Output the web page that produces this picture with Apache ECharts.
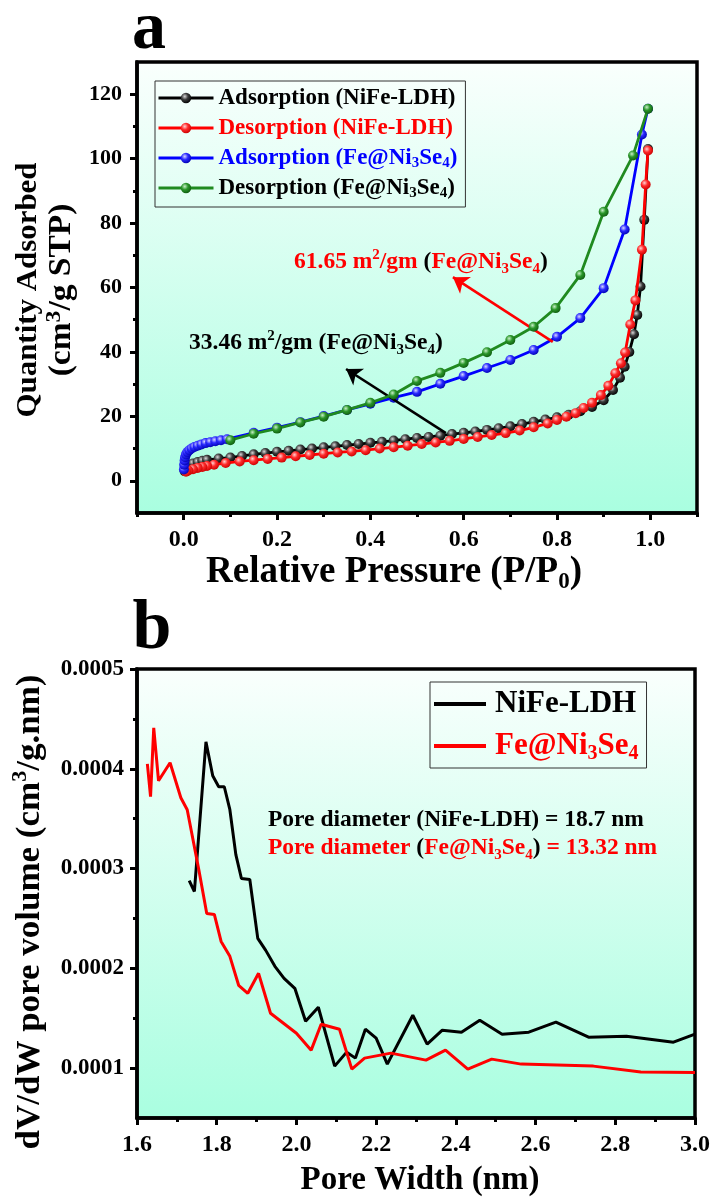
<!DOCTYPE html>
<html>
<head>
<meta charset="utf-8">
<script src="https://cdn.jsdelivr.net/npm/echarts@6/dist/echarts.min.js"></script>
<style>
  html, body { margin: 0; padding: 0; background: #ffffff; }
  #chart { width: 713px; height: 1200px; }
</style>
</head>
<body>
<div id="chart"></div>
<script>
// ---------- (a) N2 adsorption / desorption isotherms: [P/P0, quantity] ----------
const nifeAdsorption = [
  [0.002, 3.0], [0.006, 4.2], [0.012, 4.9], [0.02, 5.4], [0.03, 5.8], [0.04, 6.2], [0.05, 6.5],
  [0.075, 6.9], [0.1, 7.2], [0.125, 7.7], [0.15, 8.2], [0.175, 8.6], [0.2, 9.0], [0.225, 9.3],
  [0.25, 9.7], [0.275, 10.0], [0.3, 10.4], [0.325, 10.7], [0.35, 11.1], [0.375, 11.4], [0.4, 11.8],
  [0.425, 12.1], [0.45, 12.5], [0.475, 12.9], [0.5, 13.3], [0.525, 13.6], [0.55, 14.0], [0.575, 14.5],
  [0.6, 14.9], [0.625, 15.3], [0.65, 15.8], [0.675, 16.3], [0.7, 16.9], [0.725, 17.6], [0.75, 18.3],
  [0.775, 19.0], [0.8, 19.7], [0.825, 20.5], [0.85, 21.6], [0.875, 22.9], [0.9, 25.0], [0.92, 28.2],
  [0.935, 32.0], [0.945, 35.4], [0.955, 40.0], [0.965, 45.5], [0.972, 51.5], [0.979, 60.3],
  [0.987, 81.0], [0.995, 103.0]
];
const nifeDesorption = [
  [0.995, 102.5], [0.99, 92.0], [0.982, 71.7], [0.968, 56.0], [0.957, 48.5], [0.946, 39.8],
  [0.937, 36.5], [0.925, 33.4], [0.91, 29.5], [0.894, 26.6], [0.875, 24.2], [0.857, 22.6],
  [0.84, 21.0], [0.82, 19.9], [0.8, 18.9], [0.78, 17.8], [0.75, 16.6], [0.72, 15.6], [0.69, 14.8],
  [0.66, 14.2], [0.63, 13.6], [0.6, 13.0], [0.57, 12.4], [0.54, 11.9], [0.51, 11.4], [0.48, 10.9],
  [0.45, 10.4], [0.42, 10.0], [0.39, 9.5], [0.36, 9.1], [0.33, 8.8], [0.3, 8.4], [0.27, 8.0],
  [0.24, 7.6], [0.21, 7.2], [0.18, 6.8], [0.15, 6.4], [0.12, 6.0], [0.09, 5.5], [0.065, 5.0],
  [0.05, 4.6], [0.04, 4.3], [0.03, 4.0], [0.02, 3.6], [0.01, 3.2], [0.005, 2.8]
];
const feniAdsorption = [
  [0.0005, 3.5], [0.001, 5.0], [0.002, 6.3], [0.003, 7.3], [0.005, 8.2], [0.008, 8.9], [0.012, 9.5],
  [0.017, 10.0], [0.023, 10.5], [0.03, 10.9], [0.038, 11.3], [0.047, 11.7], [0.057, 12.0],
  [0.068, 12.3], [0.08, 12.6], [0.093, 12.9], [0.15, 14.9], [0.2, 16.5], [0.25, 18.2], [0.3, 20.1],
  [0.35, 22.0], [0.4, 23.9], [0.45, 25.8], [0.5, 27.6], [0.55, 30.1], [0.6, 32.5], [0.65, 35.0],
  [0.7, 37.5], [0.75, 40.6], [0.8, 44.7], [0.85, 50.5], [0.9, 59.8], [0.945, 78.0], [0.982, 107.5],
  [0.995, 115.5]
];
const feniDesorption = [
  [0.995, 115.5], [0.963, 101.0], [0.9, 83.5], [0.85, 63.9], [0.797, 53.6], [0.75, 47.8],
  [0.7, 43.7], [0.65, 39.9], [0.6, 36.6], [0.55, 33.5], [0.5, 31.0], [0.45, 26.8], [0.4, 24.2],
  [0.35, 22.0], [0.3, 19.9], [0.25, 18.1], [0.2, 16.2], [0.15, 14.6], [0.1, 12.6]
];
// arrows pointing from the loops to the surface-area labels: [start, tip]
const arrowFeni = [[0.791, 43.1], [0.577, 63.2]];
const arrowNife = [[0.562, 14.8], [0.348, 34.7]];

// ---------- (b) pore size distribution: [pore width nm, dV/dW] ----------
const nifePore = [
  [1.731, 2.88e-4], [1.744, 2.77e-4], [1.773, 4.27e-4], [1.79, 3.93e-4], [1.805, 3.82e-4],
  [1.819, 3.82e-4], [1.833, 3.59e-4], [1.848, 3.14e-4], [1.862, 2.90e-4], [1.883, 2.89e-4],
  [1.903, 2.30e-4], [1.923, 2.18e-4], [1.946, 2.02e-4], [1.969, 1.90e-4], [1.996, 1.80e-4],
  [2.023, 1.47e-4], [2.055, 1.61e-4], [2.096, 1.02e-4], [2.126, 1.16e-4], [2.148, 1.10e-4],
  [2.173, 1.39e-4], [2.2, 1.30e-4], [2.228, 1.04e-4], [2.292, 1.53e-4], [2.328, 1.24e-4],
  [2.366, 1.38e-4], [2.414, 1.36e-4], [2.46, 1.48e-4], [2.516, 1.34e-4], [2.583, 1.36e-4],
  [2.651, 1.46e-4], [2.733, 1.31e-4], [2.828, 1.32e-4], [2.946, 1.26e-4], [3.0, 1.34e-4]
];
const feniPore = [
  [1.626, 4.05e-4], [1.634, 3.72e-4], [1.642, 4.41e-4], [1.654, 3.88e-4], [1.683, 4.06e-4],
  [1.71, 3.71e-4], [1.726, 3.59e-4], [1.755, 2.99e-4], [1.775, 2.55e-4], [1.794, 2.54e-4],
  [1.811, 2.27e-4], [1.833, 2.12e-4], [1.855, 1.83e-4], [1.878, 1.75e-4], [1.905, 1.95e-4],
  [1.935, 1.55e-4], [2.0, 1.35e-4], [2.037, 1.18e-4], [2.062, 1.44e-4], [2.108, 1.39e-4],
  [2.139, 0.99e-4], [2.171, 1.10e-4], [2.237, 1.15e-4], [2.325, 1.08e-4], [2.374, 1.18e-4],
  [2.43, 0.99e-4], [2.49, 1.09e-4], [2.564, 1.04e-4], [2.745, 1.02e-4], [2.864, 0.96e-4],
  [3.0, 0.955e-4]
];

// ---------- axis ticks ----------
const xTicksA = [0, 0.2, 0.4, 0.6, 0.8, 1.0];
const xMinorA = [-0.1, 0.1, 0.3, 0.5, 0.7, 0.9, 1.1];
const yTicksA = [0, 20, 40, 60, 80, 100, 120];
const yMinorA = [10, 30, 50, 70, 90, 110];
const xTicksB = [1.6, 1.8, 2.0, 2.2, 2.4, 2.6, 2.8, 3.0];
const xMinorB = [1.7, 1.9, 2.1, 2.3, 2.5, 2.7, 2.9];
const yTicksB = [0.0001, 0.0002, 0.0003, 0.0004, 0.0005];
const yMinorB = [0.00015, 0.00025, 0.00035, 0.00045];

// ---------- series names ----------
const N_ADS_NIFE = 'Adsorption (NiFe-LDH)';
const N_DES_NIFE = 'Desorption (NiFe-LDH)';
const N_ADS_FENI = 'Adsorption (Fe@Ni3Se4)';
const N_DES_FENI = 'Desorption (Fe@Ni3Se4)';
const N_PORE_NIFE = 'NiFe-LDH';
const N_PORE_FENI = 'Fe@Ni3Se4';

const FONT = '"Liberation Serif", "Times New Roman", serif';
const AXIS_W = 3.5;

function panelBackground() {
  return {
    type: 'linear', x: 0, y: 0, x2: 0, y2: 1,
    colorStops: [{ offset: 0, color: '#fafffd' }, { offset: 1, color: '#a9fee0' }]
  };
}
function ball(light, base, dark) {
  return {
    type: 'radial', x: 0.38, y: 0.35, r: 0.7,
    colorStops: [{ offset: 0, color: light }, { offset: 0.45, color: base }, { offset: 1, color: dark }]
  };
}
function richSet(size, subRatio) {
  const subSize = Math.round(size * (subRatio || 0.63));
  const base = { fontFamily: FONT, fontWeight: 'bold' };
  const main = (fill) => Object.assign({ fontSize: size, lineHeight: size + 6, fill }, base);
  const sub = (fill) => Object.assign({ fontSize: subSize, lineHeight: subSize, verticalAlign: 'bottom', fill }, base);
  const sup = (fill) => Object.assign({ fontSize: subSize, lineHeight: subSize, verticalAlign: 'top', fill }, base);
  return {
    k: main('#000'), r: main('#ff0000'),
    ksub: sub('#000'), rsub: sub('#ff0000'),
    ksup: sup('#000'), rsup: sup('#ff0000')
  };
}
function label(x, y, text, size, opts) {
  opts = opts || {};
  return {
    type: 'text', x, y,
    rotation: opts.rotation || 0,
    scaleX: opts.scaleX || 1,
    silent: true,
    style: {
      text, rich: richSet(size, opts.subRatio),
      fontFamily: FONT, fontWeight: 'bold', fontSize: size, fill: '#000',
      align: opts.align || 'center', verticalAlign: 'middle'
    }
  };
}

function valueAxis(gridIndex, min, max, position, ticks, labels, fmt, labelSize, margin) {
  return {
    type: 'value', gridIndex, min, max, position,
    axisLine: { show: !!labels, onZero: false, lineStyle: { color: '#000', width: AXIS_W } },
    axisTick: { show: true, inside: false, customValues: ticks, length: labels ? 7 : 4,
                lineStyle: { color: '#000', width: 3 } },
    axisLabel: labels ? {
      customValues: labels, formatter: fmt, margin,
      fontFamily: FONT, fontWeight: 'bold', fontSize: labelSize, color: '#000'
    } : { show: false },
    splitLine: { show: false }
  };
}

const legendText = {
  [N_ADS_NIFE]: 'Adsorption (NiFe-LDH)',
  [N_DES_NIFE]: 'Desorption (NiFe-LDH)',
  [N_ADS_FENI]: 'Adsorption (Fe@Ni{sub|3}Se{sub|4})',
  [N_DES_FENI]: 'Desorption (Fe@Ni{sub|3}Se{sub|4})',
  [N_PORE_NIFE]: 'NiFe-LDH',
  [N_PORE_FENI]: 'Fe@Ni{sub|3}Se{sub|4}'
};

function isotherm(name, data, lineColor, marker, z) {
  return {
    name, type: 'line', xAxisIndex: 0, yAxisIndex: 0, data, z,
    symbol: 'circle', symbolSize: 10, showSymbol: true, showAllSymbol: true,
    lineStyle: { color: lineColor, width: 2.8 },
    itemStyle: { color: marker, borderWidth: 0 },
    emphasis: { disabled: true }
  };
}

const chart = echarts.init(document.getElementById('chart'), null, { renderer: 'canvas' });

const option = {
  animation: false,
  backgroundColor: '#ffffff',
  grid: [
    { left: 137, top: 62, width: 560, height: 451, show: true, borderColor: '#000', borderWidth: AXIS_W,
      backgroundColor: panelBackground() },
    { left: 137, top: 669, width: 560, height: 449, show: true, borderColor: '#000', borderWidth: AXIS_W,
      backgroundColor: panelBackground() }
  ],
  xAxis: [
    valueAxis(0, -0.1, 1.1, 'bottom', xTicksA, xTicksA, v => v.toFixed(1), 24, 15),
    valueAxis(0, -0.1, 1.1, 'bottom', xMinorA, null),
    valueAxis(1, 1.6, 3.0, 'bottom', xTicksB, xTicksB, v => v.toFixed(1), 24, 15),
    valueAxis(1, 1.6, 3.0, 'bottom', xMinorB, null)
  ],
  yAxis: [
    valueAxis(0, -10, 130, 'left', yTicksA, yTicksA, v => String(Math.round(v)), 22, 15),
    valueAxis(0, -10, 130, 'left', yMinorA, null),
    valueAxis(1, 0.00005, 0.0005, 'left', yTicksB, yTicksB, v => v.toFixed(4), 23, 13),
    valueAxis(1, 0.00005, 0.0005, 'left', yMinorB, null)
  ],
  legend: [
    {
      left: 155, top: 81, orient: 'vertical', selectedMode: false,
      itemWidth: 55, itemHeight: 13, itemGap: 4,
      padding: [4, 8, 6, 2], borderColor: '#333', borderWidth: 1,
      lineStyle: { width: 3 },
      data: [
        { name: N_ADS_NIFE, textStyle: { color: '#000000' } },
        { name: N_DES_NIFE, textStyle: { color: '#ff0000' } },
        { name: N_ADS_FENI, textStyle: { color: '#0000ff' } },
        { name: N_DES_FENI, textStyle: { color: '#000000' } }
      ],
      formatter: name => legendText[name],
      textStyle: {
        fontFamily: FONT, fontWeight: 'bold', fontSize: 23, lineHeight: 26,
        rich: { sub: { fontFamily: FONT, fontWeight: 'bold', fontSize: 15, lineHeight: 15, verticalAlign: 'bottom' } }
      }
    },
    {
      left: 430, top: 682, orient: 'vertical', selectedMode: false,
      itemWidth: 52, itemHeight: 4, itemGap: 6, icon: 'rect',
      padding: [4, 8, 4, 4], borderColor: '#333', borderWidth: 1,
      data: [
        { name: N_PORE_NIFE, textStyle: { color: '#000000' } },
        { name: N_PORE_FENI, textStyle: { color: '#ff0000' } }
      ],
      formatter: name => legendText[name],
      textStyle: {
        fontFamily: FONT, fontWeight: 'bold', fontSize: 31, lineHeight: 36, padding: [0, 0, 0, 4],
        rich: { sub: { fontFamily: FONT, fontWeight: 'bold', fontSize: 20, lineHeight: 20, verticalAlign: 'bottom' } }
      }
    }
  ],
  series: [
    isotherm(N_ADS_NIFE, nifeAdsorption, '#000000', ball('#d8d8d8', '#3a3a3a', '#000000'), 2),
    isotherm(N_DES_NIFE, nifeDesorption, '#ff0000', ball('#ffd0d0', '#ff2a2a', '#c80000'), 3),
    isotherm(N_ADS_FENI, feniAdsorption, '#0000ff', ball('#d6d6ff', '#2a2aff', '#0000b0'), 4),
    Object.assign(isotherm(N_DES_FENI, feniDesorption, '#208a20', ball('#c8f0c8', '#2a962a', '#0e5a0e'), 5), {
      markLine: {
        silent: true, symbol: ['none', 'arrow'], symbolSize: 15, precision: 4,
        label: { show: false }, emphasis: { disabled: true },
        lineStyle: { type: 'solid', width: 2.6 },
        data: [
          [{ coord: arrowFeni[0], lineStyle: { color: '#ff0000' } }, { coord: arrowFeni[1], lineStyle: { color: '#ff0000' } }],
          [{ coord: arrowNife[0], lineStyle: { color: '#000000' } }, { coord: arrowNife[1], lineStyle: { color: '#000000' } }]
        ]
      }
    }),
    {
      name: N_PORE_NIFE, type: 'line', xAxisIndex: 2, yAxisIndex: 2, data: nifePore,
      symbol: 'none', lineStyle: { color: '#000000', width: 3 }, itemStyle: { color: '#000000' },
      emphasis: { disabled: true }, z: 3
    },
    {
      name: N_PORE_FENI, type: 'line', xAxisIndex: 2, yAxisIndex: 2, data: feniPore,
      symbol: 'none', lineStyle: { color: '#ff0000', width: 3 }, itemStyle: { color: '#ff0000' },
      emphasis: { disabled: true }, z: 4
    }
  ],
  graphic: [
    label(149, 30, '{k|a}', 68),
    label(152, 630, '{k|b}', 70),
    label(28, 290, '{k|Quantity Adsorbed}', 30, { rotation: Math.PI / 2, scaleX: 1.03 }),
    label(62, 290, '{k|(cm}{ksup|3}{k|/g STP)}', 31, { rotation: Math.PI / 2, scaleX: 1.08, subRatio: 0.72 }),
    label(394, 572, '{k|Relative Pressure (P/P}{ksub|0}{k|)}', 37),
    label(294, 262, '{r|61.65 m}{rsup|2}{r|/gm }{k|(}{r|Fe@Ni}{rsub|3}{r|Se}{rsub|4}{k|)}', 23.5, { align: 'left' }),
    label(189, 343, '{k|33.46 m}{ksup|2}{k|/gm (Fe@Ni}{ksub|3}{k|Se}{ksub|4}{k|)}', 23.5, { align: 'left' }),
    label(30, 912, '{k|dV/dW pore volume (cm}{ksup|3}{k|/g.nm)}', 33, { rotation: Math.PI / 2, scaleX: 1.06 }),
    label(420, 1180, '{k|Pore Width (nm)}', 33),
    label(268, 820, '{k|Pore diameter (NiFe-LDH) = 18.7 nm}', 23.5, { align: 'left' }),
    label(268, 848, '{r|Pore diameter }{k|(}{r|Fe@Ni}{rsub|3}{r|Se}{rsub|4}{k|)}{r| = 13.32 nm}', 23.5, { align: 'left' })
  ]
};

chart.setOption(option);
</script>
</body>
</html>
